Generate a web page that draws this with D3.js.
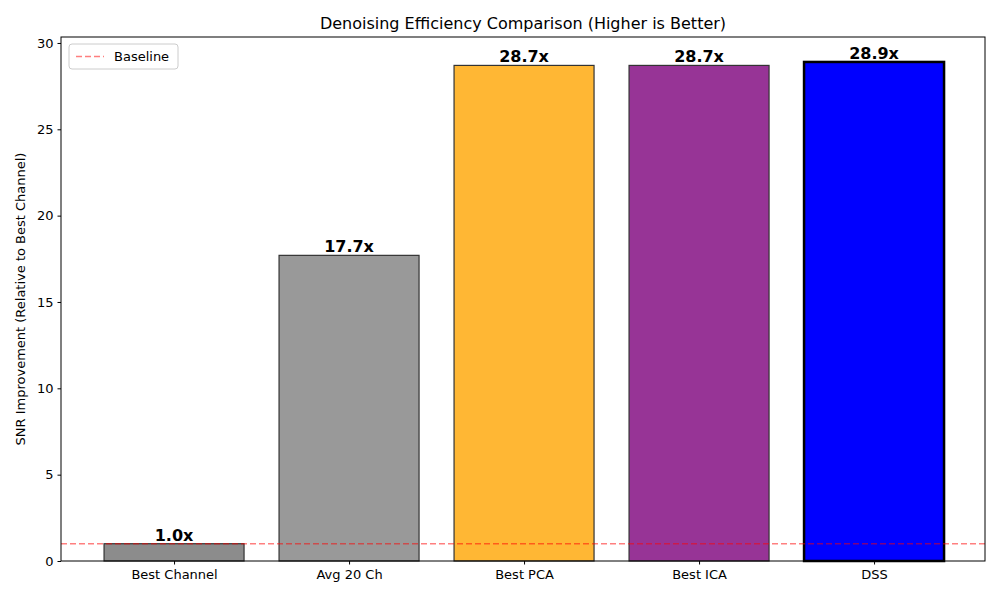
<!DOCTYPE html>
<html><head><meta charset="utf-8">
<script src="https://cdn.jsdelivr.net/npm/d3@7"></script>
<style>body{margin:0;background:#fff;font-family:"DejaVu Sans",sans-serif}</style>
</head><body><div id="chart"></div>
<script>
const methods = ["Best Channel", "Avg 20 Ch", "Best PCA", "Best ICA", "DSS"];
const improvement = [1.0, 17.7, 28.7, 28.7, 28.9];
const barColors = ["#8c8c8c", "#999999", "#ffb734", "#973496", "#0000ff"];
const yTicks = [0, 5, 10, 15, 20, 25, 30];

const W = 1000, H = 600;
const m = { top: 37, right: 15, bottom: 39, left: 61 };

const svg = d3.select("#chart").append("svg").attr("width", W).attr("height", H)
  .style("font-family", "DejaVu Sans, sans-serif");

const x = d3.scaleLinear().domain([-0.646, 4.634]).range([m.left, W - m.right]);
const y = d3.scaleLinear().domain([0, 30.345]).range([H - m.bottom, m.top]);
const bw = x(0.8) - x(0);

// bars
svg.append("g").selectAll("rect").data(improvement).enter().append("rect")
  .attr("x", (d, i) => x(i) - bw / 2)
  .attr("y", d => y(d))
  .attr("width", bw)
  .attr("height", d => y(0) - y(d))
  .attr("fill", (d, i) => barColors[i])
  .attr("stroke", (d, i) => i === 4 ? "#000" : "#333")
  .attr("stroke-width", (d, i) => i === 4 ? 2.5 : 1.2);

// value labels
svg.append("g").selectAll("text").data(improvement).enter().append("text")
  .attr("x", (d, i) => x(i))
  .attr("y", d => y(d) - 3)
  .attr("text-anchor", "middle")
  .style("font-size", "16px").style("font-weight", "bold")
  .text(d => d.toFixed(1) + "x");

// baseline
svg.append("line")
  .attr("x1", m.left).attr("x2", W - m.right)
  .attr("y1", y(1)).attr("y2", y(1))
  .attr("stroke", "red").attr("stroke-opacity", 0.5)
  .attr("stroke-width", 1.5).attr("stroke-dasharray", "6,3");

// frame
svg.append("rect").attr("x", m.left).attr("y", m.top)
  .attr("width", W - m.left - m.right).attr("height", H - m.top - m.bottom)
  .attr("fill", "none").attr("stroke", "#000").attr("stroke-width", 1);

// axes
const yAxis = svg.append("g").attr("transform", `translate(${m.left},0)`)
  .call(d3.axisLeft(y).tickValues(yTicks).tickSize(3.5).tickPadding(4));
const xAxis = svg.append("g").attr("transform", `translate(0,${H - m.bottom})`)
  .call(d3.axisBottom(x).tickValues(d3.range(methods.length)).tickFormat(i => methods[i]).tickSize(3.5).tickPadding(5));
[yAxis, xAxis].forEach(a => {
  a.select(".domain").remove();
  a.selectAll("text").style("font-size", "13px").attr("fill", "#000").style("font-family", "DejaVu Sans, sans-serif");
  a.selectAll("line").attr("stroke", "#000");
});

// titles
svg.append("text").attr("x", (m.left + W - m.right) / 2).attr("y", 29)
  .attr("text-anchor", "middle").style("font-size", "16px")
  .text("Denoising Efficiency Comparison (Higher is Better)");
svg.append("text")
  .attr("transform", `translate(25,${(m.top + H - m.bottom) / 2}) rotate(-90)`)
  .attr("text-anchor", "middle").style("font-size", "13px")
  .text("SNR Improvement (Relative to Best Channel)");

// legend
const lg = svg.append("g").attr("transform", `translate(69,44)`);
lg.append("rect").attr("width", 109).attr("height", 25).attr("rx", 3)
  .attr("fill", "#fff").attr("stroke", "#ccc");
lg.append("line").attr("x1", 7).attr("x2", 35).attr("y1", 12.5).attr("y2", 12.5)
  .attr("stroke", "red").attr("stroke-opacity", 0.5).attr("stroke-width", 1.5).attr("stroke-dasharray", "6,3");
lg.append("text").attr("x", 45).attr("y", 17).style("font-size", "13px").text("Baseline");
</script></body></html>
